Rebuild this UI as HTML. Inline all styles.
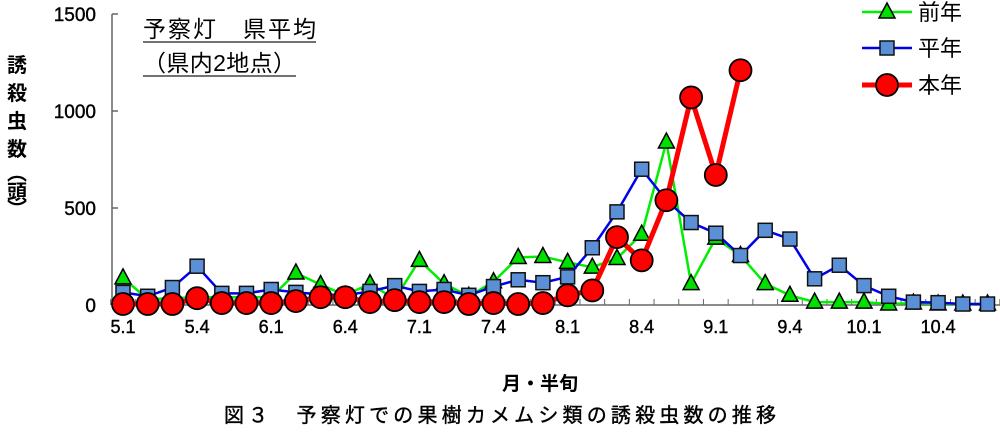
<!DOCTYPE html>
<html><head><meta charset="utf-8"><style>
body{margin:0;background:#fff;}
svg text{font-family:"Liberation Sans","Noto Sans CJK JP",sans-serif;}
</style></head><body>
<svg id="chart" width="1000" height="431" xmlns="http://www.w3.org/2000/svg">
<g id="axes"></g>
<g id="series"></g>
<g>
<text x="143" y="37" font-size="23" fill="#000" textLength="173">予察灯　県平均</text>
<line x1="143" y1="42" x2="316" y2="42" stroke="#444" stroke-width="1.5"/>
<text x="143" y="71" font-size="23" fill="#000" textLength="153">（県内2地点）</text>
<line x1="143" y1="76" x2="296" y2="76" stroke="#444" stroke-width="1.5"/>
</g>
<g font-size="20" font-weight="bold">
<text x="17" y="72" text-anchor="middle">誘</text>
<text x="17" y="100" text-anchor="middle">殺</text>
<text x="17" y="128" text-anchor="middle">虫</text>
<text x="17" y="156" text-anchor="middle">数</text>
<text x="17" y="180" text-anchor="middle">︵</text>
<text x="17" y="199" text-anchor="middle">頭</text>
<text x="17" y="216" text-anchor="middle">︶</text>
</g>
<text x="540" y="390" font-size="19" font-weight="bold" text-anchor="middle">月・半旬</text>
<text x="500" y="422" font-size="20" text-anchor="middle" textLength="552" stroke="#000" stroke-width="0.4">図３　予察灯での果樹カメムシ類の誘殺虫数の推移</text>
<g id="legend"></g>
</svg>
<script>
const xLabels=["5.1","5.4","6.1","6.4","7.1","7.4","8.1","8.4","9.1","9.4","10.1","10.4"];
const yTicks=[0,500,1000,1500];
const prevYear=[140,30,35,40,40,40,40,165,105,50,110,30,230,110,45,120,245,250,220,195,240,365,840,110,345,255,110,50,15,15,15,5,10,5,5,5];
const avgYear=[65,45,90,200,60,60,80,65,55,50,70,100,70,80,50,95,130,115,145,295,480,700,540,425,370,255,385,340,135,205,100,45,15,12,5,5];
const thisYear=[5,5,5,35,10,10,10,20,40,40,15,25,15,15,5,10,5,10,50,75,350,230,540,1070,670,1210];
const NS="http://www.w3.org/2000/svg";
const x0=123,step=24.7,yBase=305,yMax=1500,yTop=14;
const X=i=>x0+i*step, Y=v=>yBase-(v/yMax)*(yBase-yTop);
function mk(tag,attrs,parent){const e=document.createElementNS(NS,tag);for(const k in attrs)e.setAttribute(k,attrs[k]);parent.appendChild(e);return e;}
const axes=document.getElementById('axes'), ser=document.getElementById('series'), leg=document.getElementById('legend');
let a=mk('line',{x1:112,y1:Y(1500),x2:112,y2:yBase,stroke:'#666','stroke-width':1.5},axes);


a=mk('line',{x1:112,y1:yBase,x2:1000,y2:yBase,stroke:'#666','stroke-width':1.5},axes);


yTicks.forEach(v=>{
 mk('line',{x1:112,y1:Y(v),x2:118,y2:Y(v),stroke:'#666','stroke-width':1.5},axes);
 const t=mk('text',{x:96,y:Y(v)+7,'font-size':19,'text-anchor':'end',stroke:'#000','stroke-width':0.4},axes);
 
 
 t.textContent=v;
});
for(let i=0;i<=36;i++){mk('line',{x1:X(i)-step/2,y1:yBase,x2:X(i)-step/2,y2:yBase-6,stroke:'#666','stroke-width':1},axes);}
xLabels.forEach((l,k)=>{
 const t=mk('text',{x:X(k*3),y:333,'font-size':18,'text-anchor':'middle',stroke:'#000','stroke-width':0.4},axes);
 
 
 t.textContent=l;
});
function pts(arr){return arr.map((v,i)=>X(i)+','+Y(v)).join(' ');}
function marker(type,cx,cy,g){
 if(type==='tri') return mk('polygon',{points:`${cx},${cy-9} ${cx-8},${cy+6} ${cx+8},${cy+6}`,fill:'#00e000',stroke:'#000','stroke-width':1.5},g);
 if(type==='sq') return mk('rect',{x:cx-7,y:cy-7,width:14,height:14,fill:'#5b8fd6',stroke:'#111','stroke-width':1.5},g);
 return mk('circle',{cx:cx,cy:cy,r:11,fill:'#f00',stroke:'#000','stroke-width':1.8},g);
}
function series(arr,color,w,type,name){
 const g=mk('g',{},ser);
 
 
 mk('polyline',{points:pts(arr),fill:'none',stroke:color,'stroke-width':w},g);
 arr.forEach((v,i)=>{const m=marker(type,X(i),Y(v),g);
  
  });
}
series(prevYear,'#00ee00',2.5,'tri','series-prev-year');
series(avgYear,'#0000ee',2.5,'sq','series-average-year');
series(thisYear,'#ff0000',5,'circ','series-this-year');
[['前年','#00ee00',2.5,'tri',12],['平年','#0000ee',2.5,'sq',48],['本年','#ff0000',5,'circ',85]].forEach(d=>{
 const g=mk('g',{},leg);
 
 
 mk('line',{x1:862,y1:d[4],x2:912,y2:d[4],stroke:d[1],'stroke-width':d[2]},g);
 marker(d[3],887,d[4],g);
 const t=mk('text',{x:918,y:d[4]+8,'font-size':22},g);
 t.textContent=d[0];
});
</script>
</body></html>
